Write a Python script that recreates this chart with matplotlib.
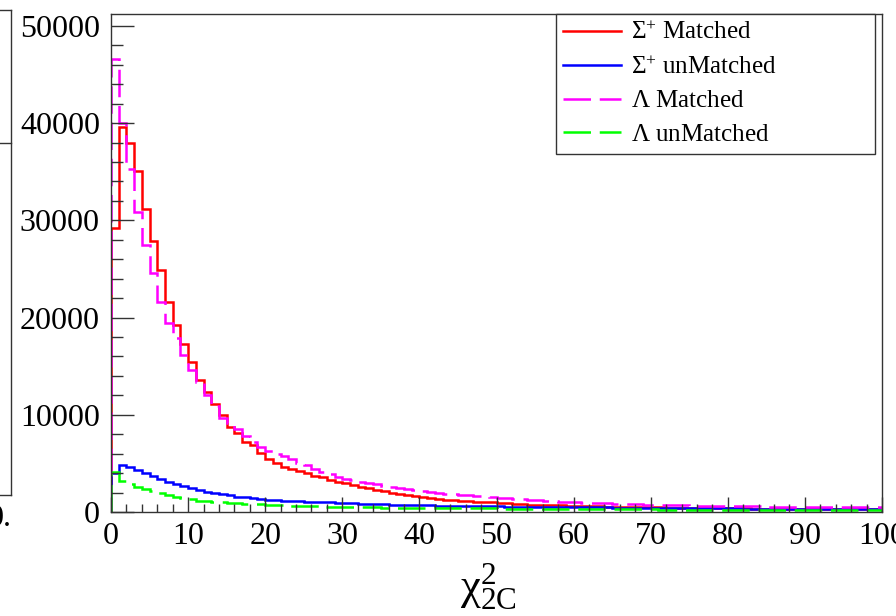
import matplotlib
matplotlib.use("Agg")
import matplotlib.pyplot as plt
from matplotlib.lines import Line2D
import numpy as np

# chi2_2C histograms, 100 bins from 0 to 100
bin_edges = np.arange(0, 101, 1)

sigma_matched = [
    29200, 39600, 37950, 35050, 31200, 27850, 24900, 21600, 19250, 17250,
    15400, 13550, 12350, 11150, 9950, 8750, 8100, 7250, 6850, 6050,
    5500, 5000, 4650, 4400, 4200, 4000, 3750, 3550, 3300, 3100,
    2950, 2800, 2600, 2450, 2300, 2150, 2000, 1850, 1750, 1650,
    1500, 1400, 1300, 1250, 1200, 1150, 1100, 1080, 1050, 1000,
    950, 900, 850, 780, 750, 720, 700, 690, 680, 660,
    620, 600, 580, 570, 550, 540, 520, 510, 500, 490,
    480, 470, 460, 450, 440, 430, 420, 410, 400, 390,
    380, 375, 370, 360, 350, 340, 335, 330, 320, 315,
    310, 300, 295, 290, 285, 280, 275, 270, 265, 260,
]

sigma_unmatched = [
    3970, 4830, 4650, 4310, 3970, 3700, 3360, 3050, 2870, 2670,
    2430, 2260, 2090, 1980, 1850, 1710, 1570, 1510, 1400, 1370,
    1250, 1200, 1180, 1130, 1100, 1060, 1030, 1010, 990, 940,
    900, 880, 860, 840, 820, 790, 770, 760, 740, 730,
    700, 690, 660, 640, 630, 620, 600, 590, 580, 575,
    570, 560, 550, 545, 540, 530, 520, 510, 505, 500,
    490, 485, 480, 470, 465, 460, 450, 445, 440, 430,
    425, 420, 410, 405, 400, 395, 390, 385, 380, 375,
    370, 365, 360, 355, 350, 345, 340, 335, 330, 325,
    320, 315, 310, 305, 300, 295, 290, 285, 280, 275,
]

lambda_matched = [
    46600, 40050, 35300, 30850, 27450, 24550, 21600, 19450, 17850, 16100,
    14600, 13400, 12000, 10900, 9700, 9150, 8500, 7800, 7200, 6650,
    6300, 6000, 5750, 5450, 5050, 4800, 4450, 4100, 3900, 3600,
    3400, 3250, 3100, 2950, 2850, 2700, 2550, 2450, 2350, 2250,
    2150, 2100, 1980, 1900, 1850, 1780, 1700, 1650, 1600, 1550,
    1480, 1430, 1380, 1330, 1250, 1200, 1150, 1100, 1060, 1030,
    1000, 960, 930, 900, 880, 860, 830, 800, 780, 760,
    740, 720, 700, 690, 670, 660, 640, 630, 620, 610,
    600, 590, 580, 575, 570, 560, 555, 550, 545, 540,
    530, 525, 520, 515, 510, 505, 500, 495, 490, 480,
]

lambda_unmatched = [
    4070, 3150, 2900, 2600, 2350, 2150, 1950, 1750, 1550, 1400,
    1300, 1180, 1100, 1040, 1000, 950, 900, 850, 810, 780,
    750, 720, 680, 650, 620, 600, 580, 560, 540, 520,
    510, 500, 490, 480, 470, 460, 450, 445, 440, 430,
    420, 410, 400, 395, 390, 385, 380, 375, 370, 365,
    360, 355, 350, 345, 340, 335, 330, 325, 320, 315,
    310, 305, 300, 295, 290, 285, 280, 275, 270, 265,
    260, 255, 250, 248, 245, 242, 240, 237, 235, 232,
    230, 228, 225, 222, 220, 218, 215, 212, 210, 208,
    205, 203, 200, 198, 195, 193, 190, 188, 185, 183,
]

labels = [r"$\mathrm{Σ}^{+}$ Matched", r"$\mathrm{Σ}^{+}$ unMatched",
          r"$\mathrm{Λ}$ Matched", r"$\mathrm{Λ}$ unMatched"]

plt.rcParams["font.family"] = ["Liberation Serif", "DejaVu Serif"]
plt.rcParams["mathtext.fontset"] = "custom"
plt.rcParams["mathtext.rm"] = "Liberation Serif"
plt.rcParams["mathtext.it"] = "Liberation Serif:italic"

fig = plt.figure(figsize=(8.96, 6.16), dpi=100)
W, H = 896, 616

# neighbouring pad, mostly cut off on the left
ax0 = fig.add_axes([-0.5, (H - 495) / H, 0.5 + 11 / W, (495 - 10) / H])
ax0.set_xticks([])
ax0.set_yticks([])
for s in ax0.spines.values():
    s.set_color("#333333")
    s.set_linewidth(1.0)
fig.add_artist(Line2D([0, 11 / W], [1 - 143 / H, 1 - 143 / H],
                      color="#333333", lw=1.0))
fig.text(12 / W, 1 - 518 / H, "0.", ha="right", va="center", fontsize=23)

ax = fig.add_axes([111 / W, (H - 512) / H, (882 - 111) / W, (512 - 14) / H])

dash = (0, (11, 3.5))
ax.stairs(sigma_matched, bin_edges, color="#ff0000", lw=1.8)
ax.stairs(sigma_unmatched, bin_edges, color="#0000ff", lw=1.8)
ax.stairs(lambda_matched, bin_edges, color="#ff00ff", lw=1.8, ls=dash)
ax.stairs(lambda_unmatched, bin_edges, color="#00ff00", lw=1.8, ls=dash)

ax.set_xlim(0, 100)
ax.set_ylim(0, 51230)
ax.set_xticks(np.arange(0, 101, 10))
ax.set_xticks(np.arange(0, 101, 2), minor=True)
ax.set_yticks(np.arange(0, 50001, 10000))
ax.set_yticks(np.arange(0, 50001, 2000), minor=True)
ax.tick_params(axis="both", which="both", direction="in", colors="#333333",
               labelcolor="black", labelsize=23, width=1.0)
ax.tick_params(axis="x", which="major", length=11, pad=7)
ax.tick_params(axis="x", which="minor", length=6)
ax.tick_params(axis="y", which="major", length=16.5, pad=8)
ax.tick_params(axis="y", which="minor", length=8.5)
for s in ax.spines.values():
    s.set_color("#333333")
    s.set_linewidth(1.0)

ax.set_xlabel(r"$\mathrm{χ}^{2}_{\mathrm{2C}}$", fontsize=32, labelpad=0)
ax.xaxis.set_label_coords(0.49, -0.1)

handles = [Line2D([], [], color="#ff0000", lw=1.8),
           Line2D([], [], color="#0000ff", lw=1.8),
           Line2D([], [], color="#ff00ff", lw=1.8, ls=dash),
           Line2D([], [], color="#00ff00", lw=1.8, ls=dash)]
leg = ax.legend(handles, labels, loc="upper left",
                bbox_to_anchor=(0.577, 0.729, 0.414, 0.271),
                mode="expand", borderaxespad=0, fontsize=18, frameon=True,
                fancybox=False, edgecolor="#333333", framealpha=1,
                handlelength=2.3, handletextpad=0.4, labelspacing=0.45,
                borderpad=0.3)
leg.get_frame().set_linewidth(1.0)

fig.savefig("out.png", dpi=100)
